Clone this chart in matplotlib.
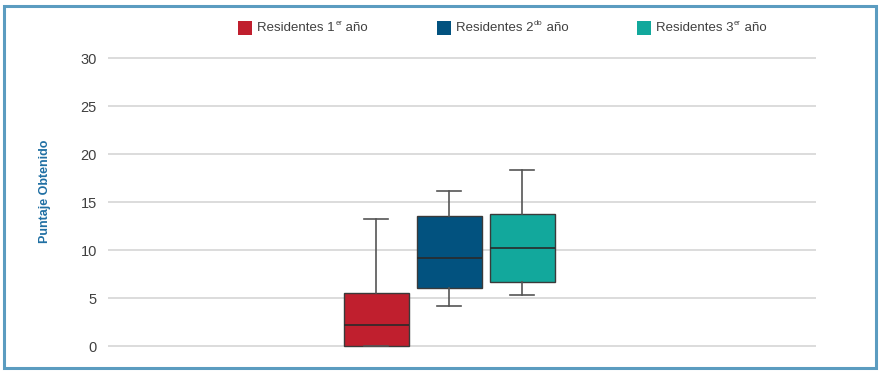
import matplotlib
matplotlib.use("Agg")
import matplotlib.pyplot as plt
from matplotlib.patches import Rectangle

plt.rcParams['font.family'] = ['Liberation Sans', 'DejaVu Sans']

groups_main = ["Residentes 1", "Residentes 2", "Residentes 3"]
groups_sup = ["er", "do", "er"]
groups_tail = " año"
colors = ["#c01f2e", "#02527f", "#12a89c"]
whisker_low = [0.0, 4.2, 5.3]
q1 = [0.0, 6.07, 6.69]
median = [2.25, 9.24, 10.2]
q3 = [5.58, 13.57, 13.78]
whisker_high = [13.2, 16.2, 18.3]
yticks = [0, 5, 10, 15, 20, 25, 30]

W, H = 884, 372
fig = plt.figure(figsize=(W / 100, H / 100), dpi=100)

left_px, right_px = 108, 816
y0_px, y30_px = 346.3, 58.0
ppu = (y0_px - y30_px) / 30.0
ylo, yhi = -1.0, 31.0
bottom_px = y0_px + (0 - ylo) * ppu
top_px = y30_px - (yhi - 30) * ppu
ax = fig.add_axes([left_px / W, (H - bottom_px) / H,
                   (right_px - left_px) / W, (bottom_px - top_px) / H])

stats = []
for i in range(3):
    stats.append(dict(whislo=whisker_low[i], q1=q1[i], med=median[i],
                      q3=q3[i], whishi=whisker_high[i], fliers=[], label=str(i)))

spacing_px = 73.0
positions = [1, 2, 3]
center2_px = 449.0
xmin = 2 - (center2_px - left_px) / spacing_px
xmax = xmin + (right_px - left_px) / spacing_px

bp = ax.bxp(stats, positions=positions, widths=65 / 73, patch_artist=True,
            showfliers=False,
            boxprops=dict(edgecolor="#3a3a3a", linewidth=1.0),
            medianprops=dict(color="#2a2a2a", linewidth=1.2),
            whiskerprops=dict(color="#555555", linewidth=1.2),
            capprops=dict(color="#555555", linewidth=1.2),
            capwidths=0.32, zorder=3)
for patch, c in zip(bp['boxes'], colors):
    patch.set_facecolor(c)

ax.set_xlim(xmin, xmax)
ax.set_ylim(ylo, yhi)
ax.set_yticks(yticks)
ax.set_xticks([])
ax.yaxis.grid(True, color="#d9d9d9", linewidth=1.3, zorder=0)
ax.set_axisbelow(True)
for s in ax.spines.values():
    s.set_visible(False)
ax.tick_params(axis='y', length=0, pad=8, labelsize=10.5, labelcolor="#404040")

fig.text(45 / W, 1 - 191 / H, "Puntaje Obtenido", rotation=90, ha='center',
         va='center', fontsize=9, fontweight='bold', color="#1f6fa3")

# manual legend
renderer = fig.canvas.get_renderer()
sq_x = [238, 437, 637]
for i in range(3):
    x = sq_x[i]
    fig.add_artist(Rectangle((x / W, 1 - 35 / H), 14 / W, 14 / H,
                             transform=fig.transFigure, facecolor=colors[i],
                             edgecolor='none'))
    t1 = fig.text((x + 19) / W, 1 - 28 / H, groups_main[i], ha='left',
                  va='center', fontsize=9.5, color="#404040")
    bb = t1.get_window_extent(renderer)
    t2 = fig.text(bb.x1 / W + 0.5 / W, 1 - 23.5 / H, groups_sup[i], ha='left',
                  va='center', fontsize=5.5, color="#404040")
    bb2 = t2.get_window_extent(renderer)
    fig.text(bb2.x1 / W, 1 - 28 / H, groups_tail, ha='left',
             va='center', fontsize=9.5, color="#404040")

fig.add_artist(Rectangle((3.5 / W, 4 / H), (876 - 3.5) / W, (369 - 3 - 4) / H,
                         transform=fig.transFigure, fill=False,
                         edgecolor="#5b9cc0", linewidth=2.2))

fig.savefig("out.png", dpi=100)
